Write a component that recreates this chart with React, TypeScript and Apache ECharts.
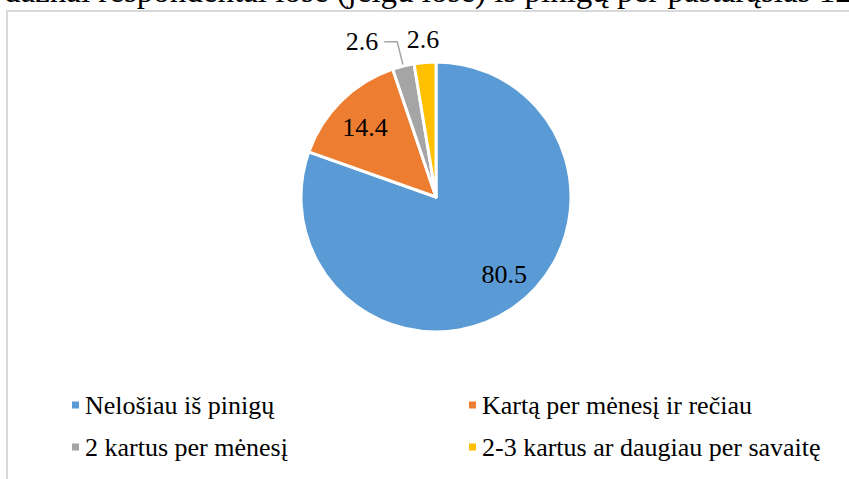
import React, { useEffect, useRef } from "react";
import * as echarts from "echarts";

const titleText = "dažnai respondentai lošė (jeigu lošė) iš pinigų per pastarąsias 12";
const categories = [
  "Nelošiau iš pinigų",
  "Kartą per mėnesį ir rečiau",
  "2 kartus per mėnesį",
  "2-3 kartus ar daugiau per savaitę",
];
const values = [80.5, 14.4, 2.6, 2.6];
const colors = ["#5B9BD5", "#ED7D31", "#A5A5A5", "#FFC000"];

const FONT = "Liberation Serif";

export default function App() {
  const ref = useRef<HTMLDivElement>(null);
  useEffect(() => {
    document.body.style.margin = "0";
    if (!ref.current) return;
    const chart = echarts.init(ref.current, undefined, { renderer: "svg" });
    const center = [436, 197];
    const labelBase = { fontFamily: FONT, fontSize: 26, color: "#000", formatter: "{c}" };
    const legendText = { fontFamily: FONT, fontSize: 26, color: "#000", lineHeight: 30 };

    const mainData = categories.map((name, i) => ({
      name,
      value: values[i],
      itemStyle: { color: colors[i] },
      label: i === 2 ? { show: true, position: "outside" } : { show: false },
      labelLine: i === 2 ? { show: true } : { show: false },
    }));

    const innerLabelData = categories.map((name, i) => ({
      name,
      value: values[i],
      label: {
        show: i === 0 || i === 1,
        offset: i === 0 ? [10, -5] : [0, 2],
      },
    }));

    const outerLabelData = categories.map((name, i) => ({
      name,
      value: values[i],
      label: { show: i === 3 },
    }));

    chart.setOption({
      animation: false,
      backgroundColor: "#fff",
      textStyle: { fontFamily: FONT },
      graphic: [
        {
          type: "text",
          x: 4,
          y: -9,
          z: 1,
          style: {
            text: titleText,
            fontFamily: FONT,
            fontSize: 33,
            fill: "#000",
            verticalAlign: "middle",
          },
        },
        {
          type: "rect",
          shape: { x: 7, y: 11, width: 900, height: 520 },
          style: { fill: "none", stroke: "#d9d9d9", lineWidth: 2 },
          z: 2,
        },
      ],
      legend: [
        {
          data: [categories[0], categories[2]],
          orient: "vertical",
          left: 65,
          top: 385,
          icon: "rect",
          itemWidth: 9,
          itemHeight: 9,
          itemGap: 12,
          textStyle: legendText,
        },
        {
          data: [categories[1], categories[3]],
          orient: "vertical",
          left: 462,
          top: 385,
          icon: "rect",
          itemWidth: 9,
          itemHeight: 9,
          itemGap: 12,
          textStyle: legendText,
        },
      ],
      series: [
        {
          type: "pie",
          center,
          radius: 135,
          startAngle: 90,
          clockwise: true,
          avoidLabelOverlap: false,
          itemStyle: { borderColor: "#fff", borderWidth: 3 },
          label: { ...labelBase, distanceToLabelLine: 6 },
          labelLine: { length: 25, length2: 13, lineStyle: { color: "#a6a6a6", width: 1.5 } },
          emphasis: { disabled: true },
          data: mainData,
        },
        {
          type: "pie",
          center,
          radius: [62, 134],
          startAngle: 90,
          clockwise: true,
          silent: true,
          avoidLabelOverlap: false,
          legendHoverLink: false,
          itemStyle: { color: "rgba(0,0,0,0)", borderWidth: 0 },
          label: { ...labelBase, position: "inside" },
          labelLine: { show: false },
          emphasis: { disabled: true },
          data: innerLabelData,
        },
        {
          type: "pie",
          center,
          radius: [140, 170],
          startAngle: 90,
          clockwise: true,
          silent: true,
          avoidLabelOverlap: false,
          legendHoverLink: false,
          itemStyle: { color: "rgba(0,0,0,0)", borderWidth: 0 },
          label: { ...labelBase, position: "inside" },
          labelLine: { show: false },
          emphasis: { disabled: true },
          data: outerLabelData,
        },
      ],
    });
    return () => chart.dispose();
  }, []);
  return <div ref={ref} style={{ width: 849, height: 479 }} />;
}
